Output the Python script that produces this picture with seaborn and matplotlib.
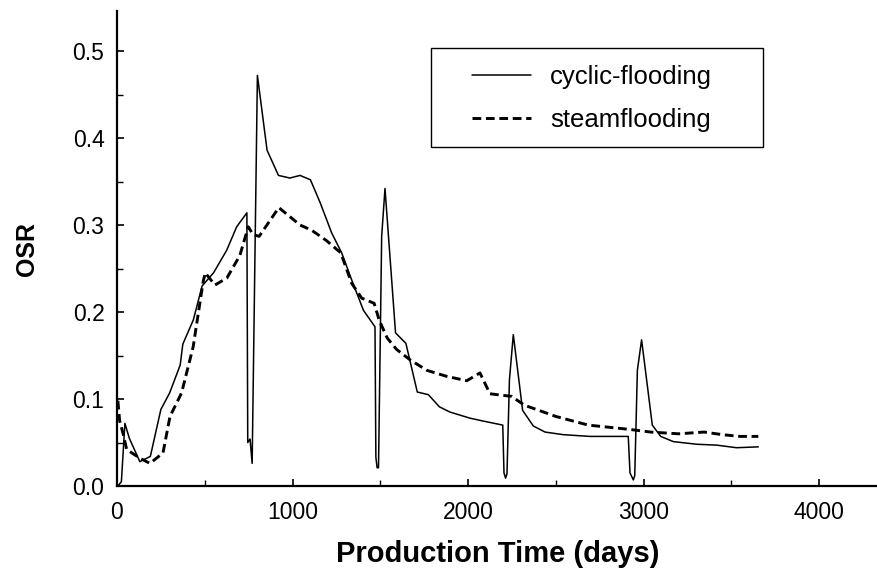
import matplotlib
matplotlib.use("Agg")
import matplotlib.pyplot as plt
from matplotlib.patches import Rectangle
from matplotlib.ticker import MultipleLocator
import numpy as np
import pandas as pd
import seaborn as sns

# Oil-steam ratio histories (days, OSR)
cyclic_days = [5, 25, 45, 70, 130, 190, 250, 300, 360, 375, 435, 485, 550, 625, 682, 740,
               745, 758, 770, 800, 855, 920, 985, 1043, 1102, 1157, 1223, 1280, 1337, 1404,
               1470, 1475, 1482, 1490, 1508, 1527, 1587, 1646, 1711, 1774, 1837, 1897, 2011,
               2078, 2198, 2205, 2214, 2222, 2236, 2258, 2311, 2372, 2439, 2543, 2695, 2913,
               2923, 2942, 2950, 2965, 2989, 3050, 3098, 3170, 3303, 3416, 3530, 3654]
cyclic_osr = [0.0, 0.005, 0.072, 0.055, 0.028, 0.034, 0.088, 0.107, 0.139, 0.163, 0.191,
              0.230, 0.245, 0.271, 0.298, 0.314, 0.050, 0.054, 0.026, 0.472, 0.386, 0.357,
              0.354, 0.357, 0.352, 0.326, 0.291, 0.268, 0.237, 0.202, 0.183, 0.033, 0.021,
              0.021, 0.287, 0.342, 0.176, 0.164, 0.108, 0.105, 0.091, 0.085, 0.078, 0.075,
              0.070, 0.015, 0.009, 0.014, 0.122, 0.174, 0.087, 0.069, 0.062, 0.059, 0.057,
              0.057, 0.015, 0.007, 0.012, 0.133, 0.168, 0.070, 0.057, 0.051, 0.048, 0.047,
              0.044, 0.045]

steam_days = [5, 15, 35, 55, 130, 188, 262, 302, 368, 434, 491, 503, 558, 626, 700, 748,
              775, 810, 922, 1043, 1109, 1194, 1275, 1337, 1394, 1465, 1495, 1540, 1593,
              1670, 1765, 1879, 1993, 2068, 2125, 2249, 2320, 2500, 2685, 2923, 3040, 3200,
              3345, 3450, 3550, 3654]
steam_osr = [0.098, 0.075, 0.060, 0.042, 0.032, 0.026, 0.038, 0.080, 0.107, 0.160, 0.235,
             0.245, 0.231, 0.239, 0.265, 0.298, 0.289, 0.287, 0.320, 0.300, 0.294, 0.282,
             0.268, 0.233, 0.216, 0.210, 0.190, 0.170, 0.157, 0.145, 0.133, 0.126, 0.121,
             0.130, 0.106, 0.103, 0.093, 0.080, 0.070, 0.065, 0.062, 0.060, 0.062, 0.059,
             0.057, 0.057]

series_names = ["cyclic-flooding", "steamflooding"]
x_ticks = [0, 1000, 2000, 3000, 4000]
y_ticks = [0.0, 0.1, 0.2, 0.3, 0.4, 0.5]

sns.set_theme(style="ticks")
plt.rcParams["font.family"] = ["Liberation Sans", "DejaVu Sans"]
plt.rcParams["text.color"] = "black"
plt.rcParams["axes.labelcolor"] = "black"
plt.rcParams["xtick.color"] = "black"
plt.rcParams["ytick.color"] = "black"

cyc = pd.DataFrame({"day": cyclic_days, "osr": cyclic_osr})
stm = pd.DataFrame({"day": steam_days, "osr": steam_osr})

fig = plt.figure(figsize=(8.78, 5.72), dpi=100)
ax = fig.add_axes([117 / 878, 1 - 486 / 572, 1 - 117 / 878, 475 / 572])

sns.lineplot(data=cyc, x="day", y="osr", ax=ax, color="black", linewidth=1.1,
             estimator=None, label=series_names[0])
sns.lineplot(data=stm, x="day", y="osr", ax=ax, color="black", linewidth=2.1,
             estimator=None, label=series_names[1], dashes=False)
ax.lines[1].set_linestyle((0, (3.0, 1.6)))

ax.set_xlim(0, 4336)
ax.set_ylim(0, 0.546)
ax.set_xticks(x_ticks)
ax.set_yticks(y_ticks)
ax.set_yticklabels([f"{v:.1f}" for v in y_ticks])
ax.xaxis.set_minor_locator(MultipleLocator(500))
ax.yaxis.set_minor_locator(MultipleLocator(0.05))

for side in ["top", "right"]:
    ax.spines[side].set_visible(False)
for side in ["left", "bottom"]:
    ax.spines[side].set_linewidth(1.6)
    ax.spines[side].set_color("black")

ax.tick_params(axis="both", which="major", direction="in", length=5, width=1.2,
               labelsize=16.5, colors="black", pad=9)
ax.tick_params(axis="x", which="major", pad=11)
ax.tick_params(axis="both", which="minor", direction="in", length=4, width=1.0,
               colors="black")

ax.set_xlabel("Production Time (days)", fontsize=21, fontweight="bold", labelpad=11,
              color="black")
ax.set_ylabel("OSR", fontsize=18, fontweight="bold", labelpad=24, color="black")

leg = ax.legend(loc="upper left", bbox_to_anchor=(472 / 878, 1 - 65 / 572),
                bbox_transform=fig.transFigure, frameon=False, fontsize=18.5,
                handlelength=2.3, handletextpad=0.75, labelspacing=0.75,
                borderpad=0, borderaxespad=0)
for txt in leg.get_texts():
    txt.set_color("black")

fig.patches.append(Rectangle((431 / 878, 1 - 147 / 572), 332 / 878, 99 / 572,
                             transform=fig.transFigure, fill=False,
                             edgecolor="black", linewidth=1.0))

fig.savefig("out.png", dpi=100)
